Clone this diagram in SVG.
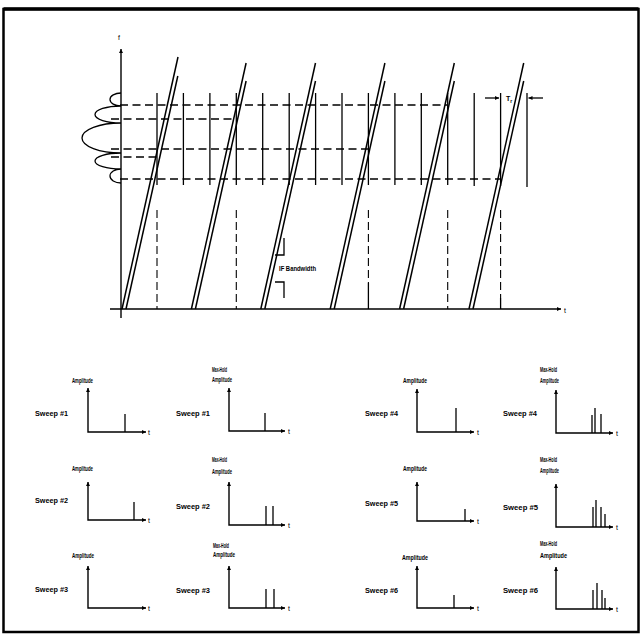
<svg xmlns="http://www.w3.org/2000/svg" width="641" height="639" viewBox="0 0 641 639">
  <defs>
    <marker id="ah" viewBox="0 0 10 10" refX="10" refY="5" markerWidth="7" markerHeight="4" markerUnits="userSpaceOnUse" orient="auto">
      <path d="M0,0 L10,5 L0,10 z" fill="#000"/>
    </marker>
    <marker id="sa" viewBox="0 0 10 10" refX="10" refY="5" markerWidth="6" markerHeight="4" markerUnits="userSpaceOnUse" orient="auto-start-reverse">
      <path d="M0,0 L10,5 L0,10 z" fill="#000"/>
    </marker>
  </defs>
  <style>
    .ln { stroke:#000; stroke-width:1.3; fill:none; }
    .sw { stroke:#000; stroke-width:1.5; fill:none; }
    .dh { stroke:#000; stroke-width:1.3; fill:none; stroke-dasharray:8 4.5; }
    .dv { stroke:#000; stroke-width:1.1; fill:none; stroke-dasharray:8 4; }
    .ax { stroke:#000; stroke-width:1.4; fill:none; }
    .sp { stroke:#000; stroke-width:1.3; fill:none; }
    text { font-family:"Liberation Sans", Arial, sans-serif; fill:#000; }
    .lb { font-size:7px; font-weight:bold; }
    .tl { font-size:7px; }
  </style>
  <rect width="641" height="639" fill="#fff"/>

  <!-- frame -->
  <rect x="3.5" y="9" width="635" height="623" fill="none" stroke="#000" stroke-width="2.5"/>
  <line x1="3.5" y1="9" x2="638.5" y2="9" stroke="#000" stroke-width="3.5"/>

  <!-- sweep timing chart -->
  <g id="chart">
    <!-- axes -->
    <line class="ax" x1="121" y1="318" x2="121" y2="49" marker-end="url(#ah)"/>
    <line class="ax" x1="110" y1="309" x2="561" y2="309" marker-end="url(#ah)"/>
    <text class="tl" x="118" y="40">f</text>
    <text class="tl" x="564" y="313">t</text>

    <!-- IF filter response: lobes along the frequency axis -->
    <path class="ln" d="M121,93 A11,6.5 0 0 0 121,106 A26,8.5 0 0 0 121,123 A39,15 0 0 0 121,153 A26,8 0 0 0 121,169 A11,7 0 0 0 121,183"/>

    <!-- horizontal dashed frequency lines -->
    <line class="dh" x1="120" y1="105" x2="447" y2="105"/>
    <line class="dh" x1="111" y1="119" x2="236" y2="119"/>
    <line class="dh" x1="111" y1="149" x2="369" y2="149"/>
    <line class="dh" x1="111" y1="157" x2="157" y2="157"/>
    <line class="dh" x1="120" y1="179" x2="500" y2="179"/>

    <!-- solid vertical markers -->
    <g class="ln">
      <line x1="157" y1="93" x2="157" y2="185"/>
      <line x1="183.4" y1="93" x2="183.4" y2="185"/>
      <line x1="209.9" y1="93" x2="209.9" y2="185"/>
      <line x1="236.3" y1="93" x2="236.3" y2="185"/>
      <line x1="262.7" y1="93" x2="262.7" y2="185"/>
      <line x1="289.2" y1="93" x2="289.2" y2="185"/>
      <line x1="315.6" y1="93" x2="315.6" y2="185"/>
      <line x1="342" y1="93" x2="342" y2="185"/>
      <line x1="368.4" y1="93" x2="368.4" y2="185"/>
      <line x1="394.9" y1="93" x2="394.9" y2="185"/>
      <line x1="421.3" y1="93" x2="421.3" y2="185"/>
      <line x1="447.7" y1="93" x2="447.7" y2="185"/>
      <line x1="474.2" y1="93" x2="474.2" y2="186"/>
      <line x1="500.6" y1="93" x2="500.6" y2="186"/>
      <line x1="527" y1="93" x2="527" y2="187"/>
    </g>

    <!-- vertical dashed lines down to the time axis -->
    <line class="dv" x1="157" y1="210" x2="157" y2="309"/>
    <line class="dv" x1="236.3" y1="210" x2="236.3" y2="309"/>
    <line class="dv" x1="368.4" y1="210" x2="368.4" y2="283"/>
    <line class="sp" x1="368.4" y1="283" x2="368.4" y2="309"/>
    <line class="dv" x1="447.7" y1="210" x2="447.7" y2="309"/>
    <line class="dv" x1="500.6" y1="210" x2="500.6" y2="298"/>
    <line class="sp" x1="500.6" y1="298" x2="500.6" y2="309"/>

    <!-- sweeps (pairs of parallel ramps) -->
    <g class="sw">
      <line x1="122" y1="309" x2="178" y2="57"/>
      <line x1="126" y1="309" x2="177.8" y2="76"/>
      <line x1="191.4" y1="309" x2="246.1" y2="63"/>
      <line x1="195.4" y1="309" x2="246.1" y2="81"/>
      <line x1="260.8" y1="309" x2="315.5" y2="63"/>
      <line x1="264.8" y1="309" x2="315.5" y2="81"/>
      <line x1="330.2" y1="309" x2="384.9" y2="63"/>
      <line x1="334.2" y1="309" x2="384.9" y2="81"/>
      <line x1="399.6" y1="309" x2="454.3" y2="63"/>
      <line x1="403.6" y1="309" x2="454.3" y2="81"/>
      <line x1="469" y1="309" x2="523.7" y2="63"/>
      <line x1="473" y1="309" x2="523.7" y2="81"/>
    </g>

    <!-- Tr spacing -->
    <line class="ln" x1="485" y1="98" x2="499" y2="98" marker-end="url(#sa)"/>
    <line class="ln" x1="543" y1="98" x2="528.5" y2="98" marker-end="url(#sa)"/>
    <text class="lb" x="506" y="101">T<tspan font-size="5" dy="1.5">r</tspan></text>

    <!-- IF bandwidth callout -->
    <polyline class="ln" points="275,255 284,255 284,238"/>
    <polyline class="ln" points="275,282 284,282 284,298"/>
    <text class="lb" x="279" y="271" textLength="37" lengthAdjust="spacingAndGlyphs">IF Bandwidth</text>
  </g>

  <!-- column 1: amplitude per sweep -->
  <g id="c1r1">
    <text class="lb" x="72" y="383" textLength="21" lengthAdjust="spacingAndGlyphs">Amplitude</text>
    <text class="lb" x="35" y="416" textLength="33" lengthAdjust="spacingAndGlyphs">Sweep #1</text>
    <polyline class="ax" points="88,388 88,432 146,432" marker-start="url(#sa)" marker-end="url(#sa)"/>
    <line class="sp" x1="125" y1="414" x2="125" y2="432"/>
    <text class="tl" x="148" y="435">t</text>
  </g>
  <g id="c1r2">
    <text class="lb" x="72" y="471" textLength="21" lengthAdjust="spacingAndGlyphs">Amplitude</text>
    <text class="lb" x="35" y="503" textLength="33" lengthAdjust="spacingAndGlyphs">Sweep #2</text>
    <polyline class="ax" points="88,482 88,520 146,520" marker-start="url(#sa)" marker-end="url(#sa)"/>
    <line class="sp" x1="134" y1="502" x2="134" y2="520"/>
    <text class="tl" x="148" y="523">t</text>
  </g>
  <g id="c1r3">
    <text class="lb" x="72" y="558" textLength="22" lengthAdjust="spacingAndGlyphs">Amplitude</text>
    <text class="lb" x="35" y="592" textLength="33" lengthAdjust="spacingAndGlyphs">Sweep #3</text>
    <polyline class="ax" points="88,566 88,608 146,608" marker-start="url(#sa)" marker-end="url(#sa)"/>
    <text class="tl" x="148" y="611">t</text>
  </g>

  <!-- column 2: max-hold amplitude -->
  <g id="c2r1">
    <text class="lb" x="212" y="372" textLength="15" lengthAdjust="spacingAndGlyphs">Max-Hold</text>
    <text class="lb" x="212" y="382" textLength="20" lengthAdjust="spacingAndGlyphs">Amplitude</text>
    <text class="lb" x="176" y="416" textLength="34" lengthAdjust="spacingAndGlyphs">Sweep #1</text>
    <polyline class="ax" points="229,388 229,431 285,431" marker-start="url(#sa)" marker-end="url(#sa)"/>
    <line class="sp" x1="265" y1="413" x2="265" y2="431"/>
    <text class="tl" x="288" y="434">t</text>
  </g>
  <g id="c2r2">
    <text class="lb" x="212" y="462" textLength="15" lengthAdjust="spacingAndGlyphs">Max-Hold</text>
    <text class="lb" x="212" y="474" textLength="20" lengthAdjust="spacingAndGlyphs">Amplitude</text>
    <text class="lb" x="176" y="509" textLength="34" lengthAdjust="spacingAndGlyphs">Sweep #2</text>
    <polyline class="ax" points="229,482 229,525 285,525" marker-start="url(#sa)" marker-end="url(#sa)"/>
    <line class="sp" x1="266" y1="506" x2="266" y2="525"/>
    <line class="sp" x1="273" y1="506" x2="273" y2="525"/>
    <text class="tl" x="288" y="528">t</text>
  </g>
  <g id="c2r3">
    <text class="lb" x="213" y="548" textLength="16" lengthAdjust="spacingAndGlyphs">Max-Hold</text>
    <text class="lb" x="213" y="557" textLength="22" lengthAdjust="spacingAndGlyphs">Amplitude</text>
    <text class="lb" x="176" y="593" textLength="34" lengthAdjust="spacingAndGlyphs">Sweep #3</text>
    <polyline class="ax" points="229,566 229,608 285,608" marker-start="url(#sa)" marker-end="url(#sa)"/>
    <line class="sp" x1="266" y1="589" x2="266" y2="608"/>
    <line class="sp" x1="274" y1="589" x2="274" y2="608"/>
    <text class="tl" x="288" y="611">t</text>
  </g>

  <!-- column 3: amplitude per sweep -->
  <g id="c3r1">
    <text class="lb" x="403" y="383" textLength="24" lengthAdjust="spacingAndGlyphs">Amplitude</text>
    <text class="lb" x="365" y="416" textLength="33" lengthAdjust="spacingAndGlyphs">Sweep #4</text>
    <polyline class="ax" points="417,389 417,432 474,432" marker-start="url(#sa)" marker-end="url(#sa)"/>
    <line class="sp" x1="456" y1="408" x2="456" y2="432"/>
    <text class="tl" x="477" y="435">t</text>
  </g>
  <g id="c3r2">
    <text class="lb" x="403" y="471" textLength="24" lengthAdjust="spacingAndGlyphs">Amplitude</text>
    <text class="lb" x="365" y="506" textLength="33" lengthAdjust="spacingAndGlyphs">Sweep #5</text>
    <polyline class="ax" points="417,482 417,521 474,521" marker-start="url(#sa)" marker-end="url(#sa)"/>
    <line class="sp" x1="465" y1="509" x2="465" y2="521"/>
    <text class="tl" x="477" y="524">t</text>
  </g>
  <g id="c3r3">
    <text class="lb" x="402" y="560" textLength="26" lengthAdjust="spacingAndGlyphs">Amplitude</text>
    <text class="lb" x="365" y="593" textLength="33" lengthAdjust="spacingAndGlyphs">Sweep #6</text>
    <polyline class="ax" points="417,566 417,608 474,608" marker-start="url(#sa)" marker-end="url(#sa)"/>
    <line class="sp" x1="454" y1="595" x2="454" y2="608"/>
    <text class="tl" x="477" y="611">t</text>
  </g>

  <!-- column 4: max-hold amplitude -->
  <g id="c4r1">
    <text class="lb" x="540" y="372" textLength="17" lengthAdjust="spacingAndGlyphs">Max-Hold</text>
    <text class="lb" x="540" y="383" textLength="19" lengthAdjust="spacingAndGlyphs">Amplitude</text>
    <text class="lb" x="503" y="416" textLength="34" lengthAdjust="spacingAndGlyphs">Sweep #4</text>
    <polyline class="ax" points="556,390 556,433 613,433" marker-start="url(#sa)" marker-end="url(#sa)"/>
    <line class="sp" x1="592" y1="415" x2="592" y2="433"/>
    <line class="sp" x1="595" y1="408" x2="595" y2="433"/>
    <line class="sp" x1="601" y1="414" x2="601" y2="433"/>
    <text class="tl" x="616" y="436">t</text>
  </g>
  <g id="c4r2">
    <text class="lb" x="540" y="462" textLength="17" lengthAdjust="spacingAndGlyphs">Max-Hold</text>
    <text class="lb" x="540" y="473" textLength="19" lengthAdjust="spacingAndGlyphs">Amplitude</text>
    <text class="lb" x="503" y="510" textLength="35" lengthAdjust="spacingAndGlyphs">Sweep #5</text>
    <polyline class="ax" points="556,484 556,527 613,527" marker-start="url(#sa)" marker-end="url(#sa)"/>
    <line class="sp" x1="593" y1="507" x2="593" y2="527"/>
    <line class="sp" x1="596" y1="500" x2="596" y2="527"/>
    <line class="sp" x1="601" y1="507" x2="601" y2="527"/>
    <line class="sp" x1="605" y1="514" x2="605" y2="527"/>
    <text class="tl" x="616" y="530">t</text>
  </g>
  <g id="c4r3">
    <text class="lb" x="540" y="546" textLength="17" lengthAdjust="spacingAndGlyphs">Max-Hold</text>
    <text class="lb" x="540" y="558" textLength="27" lengthAdjust="spacingAndGlyphs">Amplitude</text>
    <text class="lb" x="503" y="593" textLength="35" lengthAdjust="spacingAndGlyphs">Sweep #6</text>
    <polyline class="ax" points="556,567 556,609 613,609" marker-start="url(#sa)" marker-end="url(#sa)"/>
    <line class="sp" x1="593" y1="590" x2="593" y2="609"/>
    <line class="sp" x1="597" y1="583" x2="597" y2="609"/>
    <line class="sp" x1="602" y1="590" x2="602" y2="609"/>
    <line class="sp" x1="605" y1="598" x2="605" y2="609"/>
    <text class="tl" x="616" y="612">t</text>
  </g>
</svg>
